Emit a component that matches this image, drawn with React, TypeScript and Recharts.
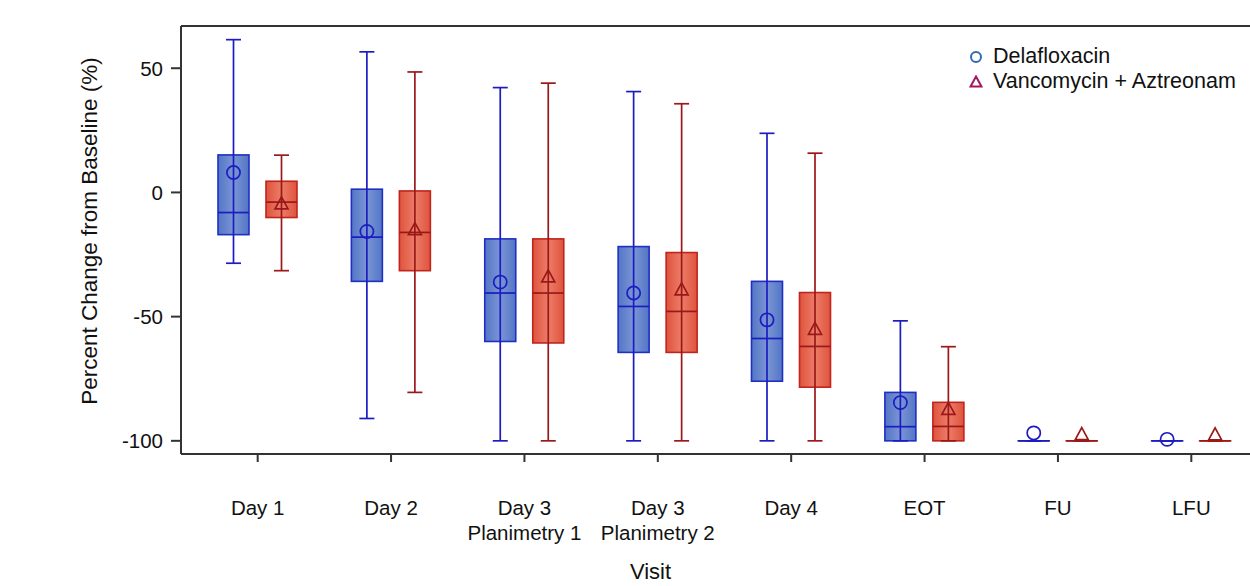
import { ComposedChart, Bar, XAxis, YAxis, Legend, ReferenceLine } from "recharts";

const FONT = "'Liberation Sans', Arial, sans-serif";

const visits = [
  "Day 1",
  "Day 2",
  "Day 3\nPlanimetry 1",
  "Day 3\nPlanimetry 2",
  "Day 4",
  "EOT",
  "FU",
  "LFU",
];

const delaMax = [61.5, 56.6, 42.2, 40.6, 23.8, -51.7, -100, -100];
const delaQ3 = [15.1, 1.3, -18.7, -21.8, -35.8, -80.5, -100, -100];
const delaMedian = [-8.1, -18.0, -40.5, -45.9, -58.8, -94.3, -100, -100];
const delaQ1 = [-17.0, -35.8, -60.0, -64.4, -76.0, -100, -100, -100];
const delaMin = [-28.5, -91.0, -100, -100, -100, -100, -100, -100];
const delaMean = [8.0, -15.7, -36.1, -40.5, -51.3, -84.6, -96.8, -99.4];

const vancMax = [15.0, 48.5, 44.0, 35.7, 15.8, -62.1, -100, -100];
const vancQ3 = [4.5, 0.6, -18.7, -24.2, -40.3, -84.5, -100, -100];
const vancMedian = [-3.9, -16.1, -40.5, -47.9, -62.0, -94.2, -100, -100];
const vancQ1 = [-10.1, -31.5, -60.6, -64.4, -78.4, -100, -100, -100];
const vancMin = [-31.5, -80.5, -100, -100, -100, -100, -100, -100];
const vancMean = [-4.6, -15.0, -34.0, -39.2, -55.1, -87.3, -97.5, -97.6];

const yTicks = [-100, -50, 0, 50];
const yDomain: [number, number] = [-105.3, 67];

const data = visits.map((visit, i) => ({
  visit,
  delaMin: delaMin[i],
  delaQ1: delaQ1[i],
  delaMedian: delaMedian[i],
  delaQ3: delaQ3[i],
  delaMax: delaMax[i],
  delaMean: delaMean[i],
  vancMin: vancMin[i],
  vancQ1: vancQ1[i],
  vancMedian: vancMedian[i],
  vancQ3: vancQ3[i],
  vancMax: vancMax[i],
  vancMean: vancMean[i],
}));

const stats = ["Min", "Q1", "Median", "Q3", "Max", "Mean"];

// full extent of everything drawn for one box, used as the bar's range
const span = (d: any, prefix: string): [number, number] => {
  const vals = stats.map((s) => d[prefix + s]);
  return [Math.min(...vals), Math.max(...vals)];
};

interface BoxLook {
  fill: string;
  border: string;
  line: string;
  marker: "circle" | "triangle";
}

const delaLook: BoxLook = { fill: "url(#delaFill)", border: "#1f2fc4", line: "#1c1cc0", marker: "circle" };
const vancLook: BoxLook = { fill: "url(#vancFill)", border: "#c0241c", line: "#9c1818", marker: "triangle" };

function makeBox(prefix: string, look: BoxLook) {
  return (props: any) => {
    const { x, y, width, height, payload } = props;
    const [lo, hi] = span(payload, prefix);
    const top = Math.min(y, y + height);
    const bot = Math.max(y, y + height);
    const py = (v: number) => top + ((hi - v) / (hi - lo)) * (bot - top);
    const cx = x + width / 2;
    const cap = 7.5;
    const q3 = py(payload[prefix + "Q3"]);
    const q1 = py(payload[prefix + "Q1"]);
    const med = py(payload[prefix + "Median"]);
    const yMax = py(payload[prefix + "Max"]);
    const yMin = py(payload[prefix + "Min"]);
    const mean = py(payload[prefix + "Mean"]);
    return (
      <g>
        <rect x={x} y={q3} width={width} height={Math.max(q1 - q3, 0.01)} fill={look.fill} stroke={look.border} strokeWidth={1.6} />
        <line x1={cx} x2={cx} y1={yMax} y2={yMin} stroke={look.line} strokeWidth={1.7} />
        <line x1={cx - cap} x2={cx + cap} y1={yMax} y2={yMax} stroke={look.line} strokeWidth={1.7} />
        <line x1={cx - cap} x2={cx + cap} y1={yMin} y2={yMin} stroke={look.line} strokeWidth={1.7} />
        <line x1={x} x2={x + width} y1={med} y2={med} stroke={look.line} strokeWidth={1.7} />
        {look.marker === "circle" ? (
          <circle cx={cx} cy={mean} r={6.6} fill="none" stroke={look.line} strokeWidth={1.7} />
        ) : (
          <polygon
            points={`${cx},${mean - 7} ${cx + 6.5},${mean + 5} ${cx - 6.5},${mean + 5}`}
            fill="none"
            stroke={look.line}
            strokeWidth={1.7}
          />
        )}
      </g>
    );
  };
}

const delaShape = makeBox("dela", delaLook);
const vancShape = makeBox("vanc", vancLook);

function VisitTick({ x, y, payload }: any) {
  const lines = String(payload.value).split("\n");
  return (
    <g transform={`translate(${x},${y})`}>
      <text textAnchor="middle" fontSize={20.5} fill="#111" fontFamily={FONT}>
        {lines.map((l, i) => (
          <tspan key={i} x={0} dy={i === 0 ? 51 : 25}>
            {l}
          </tspan>
        ))}
      </text>
    </g>
  );
}

function XLabel({ viewBox }: any) {
  const cx = viewBox.x + viewBox.width / 2 - 74;
  return (
    <text x={cx} y={579} textAnchor="middle" fontSize={22} fill="#111" fontFamily={FONT}>
      Visit
    </text>
  );
}

function YLabel({ viewBox }: any) {
  const lx = viewBox.x + 97;
  const ly = viewBox.y + viewBox.height / 2 - 9;
  return (
    <text
      x={lx}
      y={ly}
      transform={`rotate(-90 ${lx} ${ly})`}
      textAnchor="middle"
      fontSize={22.5}
      fill="#111"
      fontFamily={FONT}
    >
      Percent Change from Baseline (%)
    </text>
  );
}

const legendItems = [
  { name: "Delafloxacin", color: "#2e6bb4", marker: "circle" },
  { name: "Vancomycin + Aztreonam", color: "#a4155f", marker: "triangle" },
];

function BoxLegend() {
  return (
    <div style={{ fontFamily: FONT, fontSize: 21.5, color: "#111" }}>
      {legendItems.map((item) => (
        <div key={item.name} style={{ display: "flex", alignItems: "center", height: 25, whiteSpace: "nowrap" }}>
          <svg width={14} height={14} style={{ marginRight: 10 }}>
            {item.marker === "circle" ? (
              <circle cx={7} cy={7} r={5} fill="none" stroke={item.color} strokeWidth={2} />
            ) : (
              <polygon points="7,1.5 12.5,11.5 1.5,11.5" fill="none" stroke={item.color} strokeWidth={2} />
            )}
          </svg>
          <span>{item.name}</span>
        </div>
      ))}
    </div>
  );
}

export default function App() {
  return (
    <div style={{ position: "absolute", left: 0, top: 0, width: 1250, height: 586, overflow: "hidden", background: "#fff" }}>
      <ComposedChart
        width={1288}
        height={586}
        data={data}
        margin={{ top: 26, right: 20, bottom: 0, left: 0 }}
        barGap={17}
        style={{ fontFamily: FONT }}
      >
        <defs>
          <linearGradient id="delaFill" x1="0" y1="0" x2="1" y2="0">
            <stop offset="0%" stopColor="#5375c5" />
            <stop offset="50%" stopColor="#7b96d5" />
            <stop offset="100%" stopColor="#5375c5" />
          </linearGradient>
          <linearGradient id="vancFill" x1="0" y1="0" x2="1" y2="0">
            <stop offset="0%" stopColor="#df533d" />
            <stop offset="50%" stopColor="#ec7d68" />
            <stop offset="100%" stopColor="#df533d" />
          </linearGradient>
        </defs>
        <XAxis
          dataKey="visit"
          type="category"
          interval={0}
          padding={{ left: 10, right: 10 }}
          height={132}
          tickSize={8}
          axisLine={{ stroke: "#333", strokeWidth: 2 }}
          tickLine={{ stroke: "#333", strokeWidth: 2 }}
          tick={<VisitTick />}
          label={(p: any) => <XLabel {...p} />}
        />
        <YAxis
          type="number"
          domain={yDomain}
          ticks={yTicks}
          allowDataOverflow
          width={181}
          tickSize={10}
          tickMargin={8}
          axisLine={{ stroke: "#333", strokeWidth: 2 }}
          tickLine={{ stroke: "#333", strokeWidth: 2 }}
          tick={{ fontSize: 20.5, fill: "#111", fontFamily: FONT }}
          label={(p: any) => <YLabel {...p} />}
        />
        <ReferenceLine y={yDomain[1]} stroke="#333" strokeWidth={2} />
        <Legend
          layout="horizontal"
          verticalAlign="middle"
          align="center"
          content={() => <BoxLegend />}
          wrapperStyle={{ top: 44, left: 969, width: 300 }}
        />
        <Bar
          name="Delafloxacin"
          dataKey={(d: any) => span(d, "dela")}
          barSize={31}
          shape={delaShape}
          isAnimationActive={false}
        />
        <Bar
          name="Vancomycin + Aztreonam"
          dataKey={(d: any) => span(d, "vanc")}
          barSize={31}
          shape={vancShape}
          isAnimationActive={false}
        />
      </ComposedChart>
    </div>
  );
}
